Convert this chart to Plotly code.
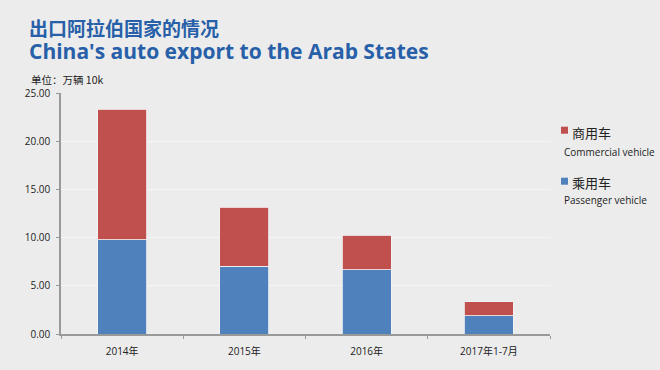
import plotly.graph_objects as go

categories = ["2014年", "2015年", "2016年", "2017年1-7月"]
passenger = [9.79, 7.02, 6.67, 1.89]
commercial = [13.55, 6.13, 3.57, 1.46]
y_ticks = [0, 5, 10, 15, 20, 25]
y_tick_labels = ["0.00", "5.00", "10.00", "15.00", "20.00", "25.00"]

BLUE = "#4f81bd"
RED = "#c0504d"
BG = "#ececec"
TITLE_C = "#2760a8"

fig = go.Figure()
fig.add_trace(go.Bar(x=categories, y=passenger, name="乘用车", marker=dict(color=BLUE, line=dict(color="#f4f4f4", width=0.8)), width=0.4))
fig.add_trace(go.Bar(x=categories, y=commercial, name="商用车", marker=dict(color=RED, line=dict(color="#f4f4f4", width=0.8)), width=0.4))

fig.update_layout(
    barmode="stack",
    width=660, height=370,
    paper_bgcolor=BG, plot_bgcolor=BG,
    margin=dict(l=61, r=110, t=93, b=36),
    showlegend=False,
    font=dict(family="Open Sans, Noto Sans CJK SC, sans-serif", color="#222"),
    xaxis=dict(showline=True, linecolor="#999", linewidth=1.5, ticks="outside", tickcolor="#999", ticklen=3,
               tickson="boundaries", tickfont=dict(size=10, color="#222"), showgrid=False, ticklabelstandoff=7),
    yaxis=dict(range=[0, 25], tickvals=y_ticks, ticktext=y_tick_labels, showline=True, linecolor="#999", linewidth=1.5,
               ticks="outside", tickcolor="#999", ticklen=3, tickfont=dict(size=10, color="#222"),
               showgrid=True, gridcolor="#f5f5f5", gridwidth=1, zeroline=False, ticklabelstandoff=4),
)

title_text = ("<span style='font-family:Noto Sans CJK SC;font-size:19px'><b>出口阿拉伯国家的情况</b></span><br>"
              "<span style='font-family:Open Sans;font-size:21px'><b>China's auto export to the Arab States</b></span>")

annotations = [
    dict(text=title_text, x=27, y=40, font=dict(size=17.5, color=TITLE_C, family="Open Sans, sans-serif")),
    dict(text="单位：万辆 10k", x=29, y=79, font=dict(size=10.5, color="#222", family="Noto Sans CJK SC")),
    dict(text="商用车", x=570, y=132, font=dict(size=13, color="#222", family="Noto Sans CJK SC")),
    dict(text="Commercial vehicle", x=562, y=152, font=dict(size=10, color="#222", family="Open Sans, sans-serif")),
    dict(text="乘用车", x=570, y=182, font=dict(size=13, color="#222", family="Noto Sans CJK SC")),
    dict(text="Passenger vehicle", x=562, y=200, font=dict(size=10, color="#222", family="Open Sans, sans-serif")),
]
for a in annotations:
    fig.add_annotation(text=a["text"], xref="paper", yref="paper",
                       x=(a["x"] - 61) / (660 - 61 - 110), y=(370 - 36 - a["y"]) / (370 - 93 - 36),
                       xanchor="left", yanchor="middle", align="left", showarrow=False, font=a["font"])

for y0, c in [(126.7, RED), (177.7, BLUE)]:
    fig.add_shape(type="rect", xref="paper", yref="paper",
                  x0=(561 - 61) / 489, x1=(568 - 61) / 489,
                  y0=(334 - y0) / 241, y1=(334 - y0 - 7) / 241,
                  fillcolor=c, line=dict(width=0))

fig.write_html("out.html", config={"displayModeBar": False},
               post_script="document.body.style.margin='0';document.body.style.overflow='hidden';")
